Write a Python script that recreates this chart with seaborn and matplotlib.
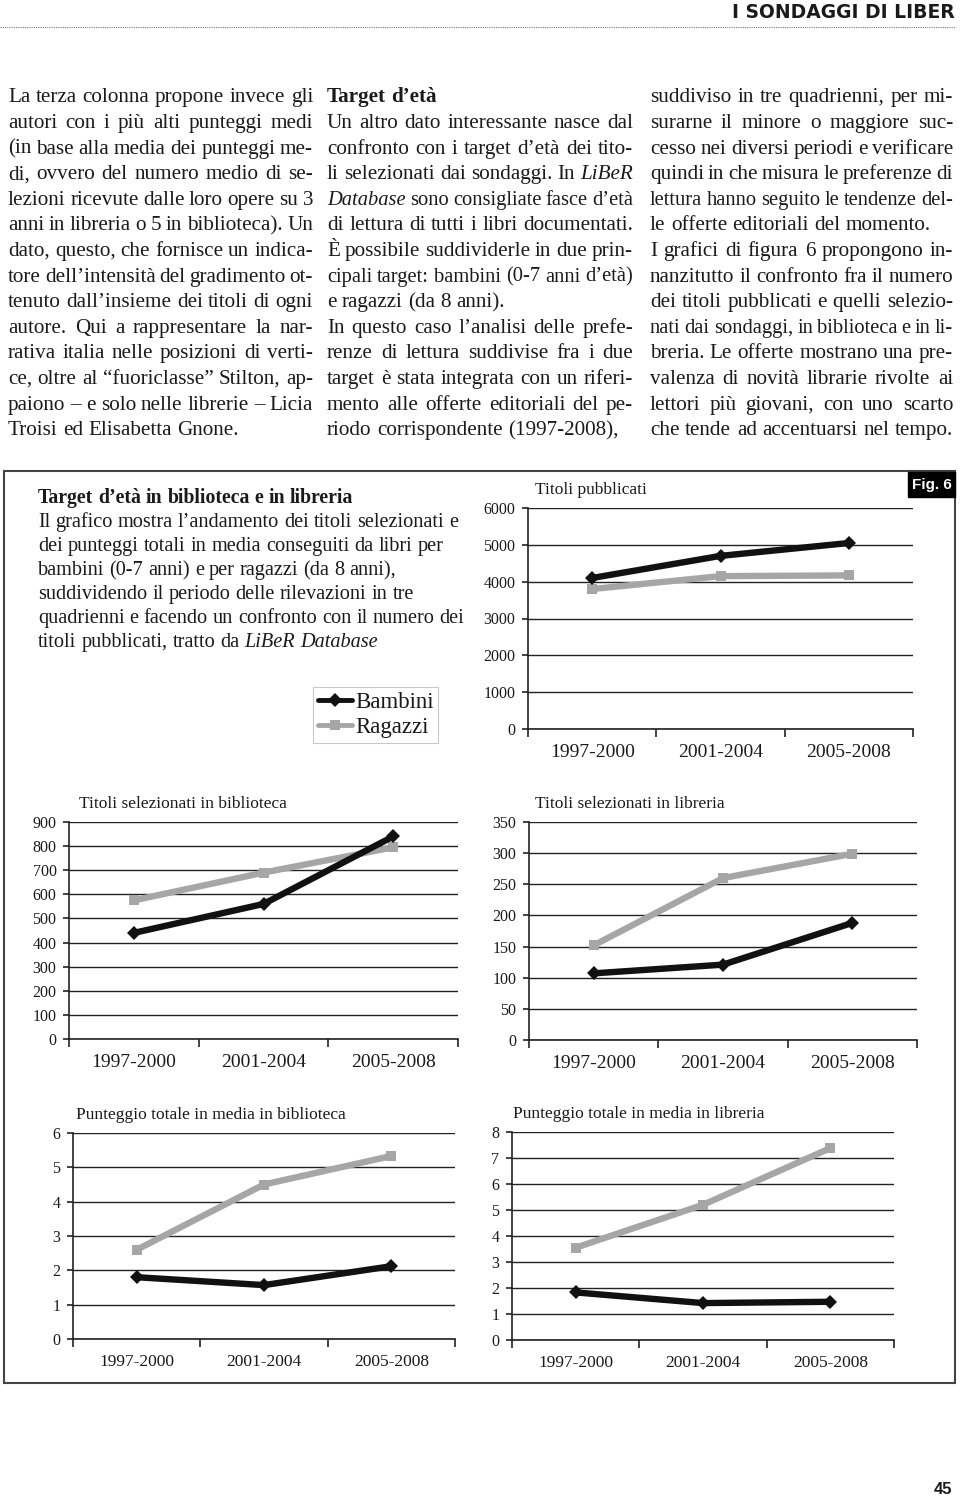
import matplotlib
matplotlib.use("Agg")
import matplotlib.pyplot as plt
import seaborn as sns
import pandas as pd
from matplotlib.lines import Line2D
from matplotlib.patches import Rectangle

# --- data -------------------------------------------------------------
periodi = ["1997-2000", "2001-2004", "2005-2008"]

pubblicati_bambini = [4100, 4700, 5050]
pubblicati_ragazzi = [3800, 4150, 4170]

biblioteca_bambini = [440, 560, 840]
biblioteca_ragazzi = [575, 690, 795]

libreria_bambini = [107, 121, 188]
libreria_ragazzi = [152, 260, 299]

punteggio_bibl_bambini = [1.8, 1.57, 2.12]
punteggio_bibl_ragazzi = [2.6, 4.5, 5.33]

punteggio_libr_bambini = [1.83, 1.42, 1.47]
punteggio_libr_ragazzi = [3.55, 5.2, 7.38]

col1 = [
    "La terza colonna propone invece gli",
    "autori con i più alti punteggi medi",
    "(in base alla media dei punteggi me-",
    "di, ovvero del numero medio di se-",
    "lezioni ricevute dalle loro opere su 3",
    "anni in libreria o 5 in biblioteca). Un",
    "dato, questo, che fornisce un indica-",
    "tore dell’intensità del gradimento ot-",
    "tenuto dall’insieme dei titoli di ogni",
    "autore. Qui a rappresentare la nar-",
    "rativa italia nelle posizioni di verti-",
    "ce, oltre al “fuoriclasse” Stilton, ap-",
    "paiono – e solo nelle librerie – Licia",
    "Troisi ed Elisabetta Gnone.",
]
col2 = [
    "Un altro dato interessante nasce dal",
    "confronto con i target d’età dei tito-",
    "li selezionati dai sondaggi. In *LiBeR*",
    "*Database* sono consigliate fasce d’età",
    "di lettura di tutti i libri documentati.",
    "È possibile suddividerle in due prin-",
    "cipali target: bambini (0-7 anni d’età)",
    "e ragazzi (da 8 anni).",
    "In questo caso l’analisi delle prefe-",
    "renze di lettura suddivise fra i due",
    "target è stata integrata con un riferi-",
    "mento alle offerte editoriali del pe-",
    "riodo corrispondente (1997-2008),",
]
col3 = [
    "suddiviso in tre quadrienni, per mi-",
    "surarne il minore o maggiore suc-",
    "cesso nei diversi periodi e verificare",
    "quindi in che misura le preferenze di",
    "lettura hanno seguito le tendenze del-",
    "le offerte editoriali del momento.",
    "I grafici di figura 6 propongono in-",
    "nanzitutto il confronto fra il numero",
    "dei titoli pubblicati e quelli selezio-",
    "nati dai sondaggi, in biblioteca e in li-",
    "breria. Le offerte mostrano una pre-",
    "valenza di novità librarie rivolte ai",
    "lettori più giovani, con uno scarto",
    "che tende ad accentuarsi nel tempo.",
]
didascalia = [
    "Il grafico mostra l’andamento dei titoli selezionati e",
    "dei punteggi totali in media conseguiti da libri per",
    "bambini (0-7 anni) e per ragazzi (da 8 anni),",
    "suddividendo il periodo delle rilevazioni in tre",
    "quadrienni e facendo un confronto con il numero dei",
    "titoli pubblicati, tratto da *LiBeR* *Database*",
]
# lines that end a paragraph (left aligned, not justified)
ragged = {"Troisi ed Elisabetta Gnone.", "e ragazzi (da 8 anni).",
          "le offerte editoriali del momento."}

# --- style ------------------------------------------------------------
sns.set_theme(style="white")
plt.rcParams["font.family"] = ["Liberation Serif", "DejaVu Serif"]
INK = "#1a1a1a"
NERO = "#111111"
GRIGIO = "#a6a6a6"
palette = {"Bambini": NERO, "Ragazzi": GRIGIO}
markers = {"Bambini": "D", "Ragazzi": "s"}

W, H = 960, 1499
fig = plt.figure(figsize=(W / 100, H / 100), dpi=100)
renderer = fig.canvas.get_renderer()


def fx(x):
    return x / W


def fy(y):
    return 1 - y / H


def write_line(line, x0, x1, y, size, justify=True, weight="normal"):
    # y is the visual middle of the line; text is set on its baseline
    base = y + size * 100 / 72 * 0.3
    while True:
        objs = []
        for w in line.split(" "):
            style = "normal"
            if w.startswith("*") and w.endswith("*"):
                w, style = w[1:-1], "italic"
            objs.append(fig.text(0, fy(base), w, fontsize=size, style=style, weight=weight,
                                 va="baseline", ha="left", color=INK))
        widths = [t.get_window_extent(renderer).width for t in objs]
        gap = size * 100 / 72 * 0.25
        if justify and len(objs) > 1:
            gap = (x1 - x0 - sum(widths)) / (len(objs) - 1)
            if gap < size * 100 / 72 * 0.18:
                for t in objs:
                    t.remove()
                size -= 0.2
                continue
        break
    x = x0
    for t, w in zip(objs, widths):
        t.set_x(fx(x))
        x += w + gap


# header
fig.text(fx(955), fy(13), "I SONDAGGI DI LIBER", fontsize=13.5, weight="bold",
         family="DejaVu Sans", ha="right", va="center", color=INK)
fig.add_artist(Line2D([0, fx(955)], [fy(27), fy(27)], ls=(0, (1, 1)), lw=0.8, color="#777777"))

# text columns
BODY = 15.2
STEP = 25.6
for i, line in enumerate(col1):
    write_line(line, 8, 313, 96 + i * STEP, BODY, justify=line not in ragged)
write_line("Target d’età", 327, 633, 96, BODY, justify=False, weight="bold")
for i, line in enumerate(col2):
    write_line(line, 327, 633, 96 + (i + 1) * STEP, BODY,
               justify=line not in ragged and i < len(col2) - 1)
for i, line in enumerate(col3):
    write_line(line, 650, 953, 96 + i * STEP, BODY, justify=line not in ragged)

# figure box
fig.add_artist(Rectangle((fx(4), fy(1383)), (955 - 4) / W, (1383 - 471) / H,
                         transform=fig.transFigure, fill=False, ec="#444444", lw=1.5))
fig.add_artist(Rectangle((fx(908), fy(497)), (955 - 908) / W, 25 / H,
                         transform=fig.transFigure, fc="black", ec="black"))
fig.text(fx(931.5), fy(485), "Fig. 6", family="Liberation Sans", weight="bold",
         fontsize=11, color="white", ha="center", va="center")

write_line("Target d’età in biblioteca e in libreria", 38, 470, 497, 14.2,
           justify=False, weight="bold")
for i, line in enumerate(didascalia):
    write_line(line, 38, 470, 521 + i * 24, 14.6, justify=False)


def chart(box, title, title_x, bambini, ragazzi, ymax, ystep, xsize):
    l, t, r, b = box
    ax = fig.add_axes([fx(l), fy(b), (r - l) / W, (b - t) / H])
    df = pd.DataFrame({
        "periodo": periodi * 2,
        "valore": bambini + ragazzi,
        "target": ["Bambini"] * 3 + ["Ragazzi"] * 3,
    })
    sns.lineplot(data=df, x="periodo", y="valore", hue="target", style="target",
                 hue_order=["Ragazzi", "Bambini"], style_order=["Ragazzi", "Bambini"],
                 palette=palette, markers=markers, dashes=False, linewidth=4.6,
                 markersize=7, markeredgewidth=0, legend=False, sort=False, ax=ax)
    ax.set_xlim(-0.5, 2.5)
    ax.set_ylim(0, ymax)
    ax.set_yticks([v * ystep for v in range(int(round(ymax / ystep)) + 1)])
    ax.set_xticks([0, 1, 2])
    ax.set_xticklabels(periodi)
    ax.set_xticks([-0.5, 0.5, 1.5, 2.5], minor=True)
    ax.yaxis.grid(True, color="#222222", lw=1.0)
    ax.xaxis.grid(False)
    ax.set_axisbelow(True)
    ax.set_xlabel("")
    ax.set_ylabel("")
    for s in ["top", "right"]:
        ax.spines[s].set_visible(False)
    for s in ["left", "bottom"]:
        ax.spines[s].set_color("#222222")
        ax.spines[s].set_linewidth(1.2)
    ax.tick_params(axis="y", left=True, length=4, width=1.2, color="#222222", pad=5,
                   labelsize=11.5, labelcolor=INK)
    ax.tick_params(axis="x", which="major", bottom=True, length=0, pad=11,
                   labelsize=xsize, labelcolor=INK)
    ax.tick_params(axis="x", which="minor", bottom=True, length=6, width=1.2,
                   color="#222222")
    fig.text(fx(title_x), fy(t - 18), title, fontsize=12.5, color=INK, ha="left", va="center")
    return ax


chart((528, 508, 913, 729), "Titoli pubblicati", 535,
      pubblicati_bambini, pubblicati_ragazzi, 6000, 1000, 14)
chart((69, 822, 458, 1039), "Titoli selezionati in biblioteca", 79,
      biblioteca_bambini, biblioteca_ragazzi, 900, 100, 14)
chart((529, 822, 917, 1040), "Titoli selezionati in libreria", 535,
      libreria_bambini, libreria_ragazzi, 350, 50, 14)
chart((73, 1133, 455, 1339), "Punteggio totale in media in biblioteca", 76,
      punteggio_bibl_bambini, punteggio_bibl_ragazzi, 6, 1, 12.5)
chart((512, 1132, 894, 1340), "Punteggio totale in media in libreria", 513,
      punteggio_libr_bambini, punteggio_libr_ragazzi, 8, 1, 12.5)

handles = [
    Line2D([], [], color=NERO, lw=3.5, marker="D", ms=7, mew=0),
    Line2D([], [], color=GRIGIO, lw=3.5, marker="s", ms=7, mew=0),
]
leg = fig.legend(handles, ["Bambini", "Ragazzi"], loc="upper left",
                 bbox_to_anchor=(fx(313), fy(687)), frameon=True, fancybox=False,
                 edgecolor="#bbbbbb", fontsize=16.5, handlelength=1.5, handletextpad=0.15,
                 borderpad=0.2, labelspacing=0.2, borderaxespad=0)
leg.get_frame().set_linewidth(0.8)
for txt in leg.get_texts():
    txt.set_color(INK)

fig.text(fx(952), fy(1490), "45", family="Liberation Sans", weight="bold",
         fontsize=12, color=INK, ha="right", va="center")

fig.savefig("out.png", dpi=100, facecolor="white")
